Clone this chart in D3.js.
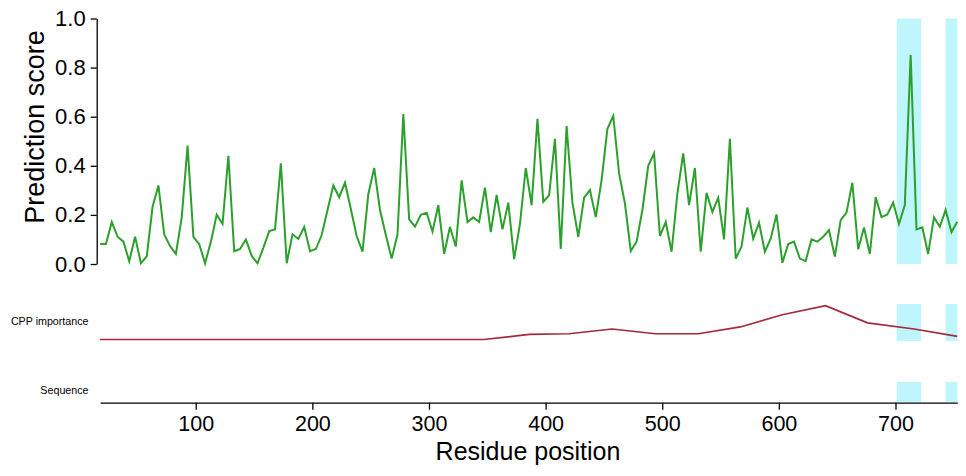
<!DOCTYPE html>
<html>
<head>
<meta charset="utf-8">
<script src="https://cdn.jsdelivr.net/npm/d3@7"></script>
<style>
  body { margin: 0; background: #fff; }
  svg { display: block; font-family: "Liberation Sans", Arial, sans-serif; }
</style>
</head>
<body>
<div id="chart"></div>
<script>
// Prediction score, one window every 5 residues starting at residue 18
const scoreStart = 18;
const scoreStep = 5;
const scores = [
  0.081, 0.081, 0.171, 0.111, 0.091, 0.011, 0.111, 0.003, 0.031, 0.233,
  0.32, 0.12, 0.073, 0.041, 0.19, 0.482, 0.111, 0.081, 0.003, 0.091,
  0.201, 0.163, 0.441, 0.052, 0.061, 0.10, 0.033, 0.003, 0.066, 0.134,
  0.141, 0.41, 0.003, 0.121, 0.102, 0.151, 0.052, 0.061, 0.118, 0.22,
  0.32, 0.272, 0.331, 0.224, 0.114, 0.05, 0.285, 0.391, 0.22, 0.118,
  0.022, 0.121, 0.611, 0.182, 0.152, 0.20, 0.209, 0.132, 0.24, 0.041,
  0.151, 0.071, 0.341, 0.171, 0.19, 0.171, 0.311, 0.13, 0.281, 0.141,
  0.25, 0.02, 0.163, 0.391, 0.24, 0.591, 0.253, 0.28, 0.51, 0.061,
  0.562, 0.25, 0.111, 0.27, 0.301, 0.191, 0.342, 0.551, 0.603, 0.369,
  0.247, 0.053, 0.091, 0.22, 0.40, 0.451, 0.114, 0.171, 0.05, 0.288,
  0.451, 0.24, 0.391, 0.05, 0.29, 0.212, 0.27, 0.10, 0.51, 0.022,
  0.071, 0.23, 0.103, 0.168, 0.05, 0.103, 0.202, 0.005, 0.081, 0.091,
  0.022, 0.012, 0.10, 0.091, 0.111, 0.138, 0.03, 0.179, 0.209, 0.331,
  0.06, 0.149, 0.041, 0.272, 0.191, 0.202, 0.25, 0.163, 0.24, 0.851,
  0.141, 0.149, 0.041, 0.19, 0.152, 0.22, 0.13, 0.172
];

// CPP importance track (relative units)
const cppPositions = [18, 347, 386, 420, 457, 494, 531, 567, 603, 640, 676, 716, 753];
const cppValues =    [0, 0, 0.15, 0.17, 0.31, 0.17, 0.17, 0.37, 0.73, 1.0, 0.49, 0.31, 0.09];

// highlighted regions (residue start, end)
const regions = [[701, 722], [743, 753]];

const xTicks = [100, 200, 300, 400, 500, 600, 700];
const yTicks = [0, 0.2, 0.4, 0.6, 0.8, 1.0];

const W = 966, H = 476;
const svg = d3.select("#chart").append("svg")
  .attr("width", W)
  .attr("height", H);

const scoreData = scores.map((v, i) => ({ pos: scoreStart + i * scoreStep, v: v }));
const lastPos = scoreData[scoreData.length - 1].pos;

const x = d3.scaleLinear()
  .domain([scoreStart, lastPos])
  .range([100.1, 957.3]);

const yScore = d3.scaleLinear().domain([0, 1]).range([264, 18.5]);
const yCpp = d3.scaleLinear().domain([0, 1]).range([339.5, 305.6]);

// panel vertical extents for the highlight boxes
const panels = [
  { top: 18.5, bottom: 264 },
  { top: 304, bottom: 341 },
  { top: 382, bottom: 402 }
];

panels.forEach(p => {
  svg.append("g").selectAll("rect")
    .data(regions)
    .join("rect")
    .attr("x", d => x(d[0]))
    .attr("width", d => x(d[1]) - x(d[0]))
    .attr("y", p.top)
    .attr("height", p.bottom - p.top)
    .attr("fill", "#bff5fc");
});

// score line
const line = d3.line()
  .x(d => x(d.pos))
  .y(d => yScore(d.v));

svg.append("path")
  .datum(scoreData)
  .attr("fill", "none")
  .attr("stroke", "#2ca02c")
  .attr("stroke-width", 2)
  .attr("d", line);

// cpp line
const cppLine = d3.line()
  .x((d, i) => x(cppPositions[i]))
  .y(d => yCpp(d));

svg.append("path")
  .datum(cppValues)
  .attr("fill", "none")
  .attr("stroke", "#a4293b")
  .attr("stroke-width", 1.7)
  .attr("d", cppLine);

// y axis
const yAxis = svg.append("g")
  .attr("transform", "translate(96.7,0)")
  .call(d3.axisLeft(yScore).tickValues(yTicks).tickFormat(d3.format(".1f"))
    .tickSize(6).tickSizeOuter(0).tickPadding(5));
yAxis.selectAll("text")
  .style("font-size", "22px")
  .style("font-family", "'Liberation Sans', Arial, sans-serif")
  .attr("fill", "#000");
yAxis.selectAll("line, path").attr("stroke", "#000").attr("stroke-width", 1.3);

svg.append("text")
  .attr("transform", "translate(44,127) rotate(-90)")
  .attr("text-anchor", "middle")
  .style("font-size", "27px")
  .text("Prediction score");

// x axis
const xAxis = svg.append("g")
  .attr("transform", "translate(0,402.7)")
  .call(d3.axisBottom(x).tickValues(xTicks).tickFormat(d3.format("d"))
    .tickSize(7).tickSizeOuter(0).tickPadding(6));
xAxis.selectAll("text")
  .style("font-size", "21.5px")
  .style("font-family", "'Liberation Sans', Arial, sans-serif")
  .attr("fill", "#000");
xAxis.selectAll("line, path").attr("stroke", "#000").attr("stroke-width", 1.3);

svg.append("text")
  .attr("x", 528)
  .attr("y", 459.5)
  .attr("text-anchor", "middle")
  .style("font-size", "25px")
  .text("Residue position");

// track labels
svg.append("text")
  .attr("x", 88.5)
  .attr("y", 325)
  .attr("text-anchor", "end")
  .style("font-size", "10.7px")
  .text("CPP importance");

svg.append("text")
  .attr("x", 88.5)
  .attr("y", 394.3)
  .attr("text-anchor", "end")
  .style("font-size", "10.7px")
  .text("Sequence");
</script>
</body>
</html>
